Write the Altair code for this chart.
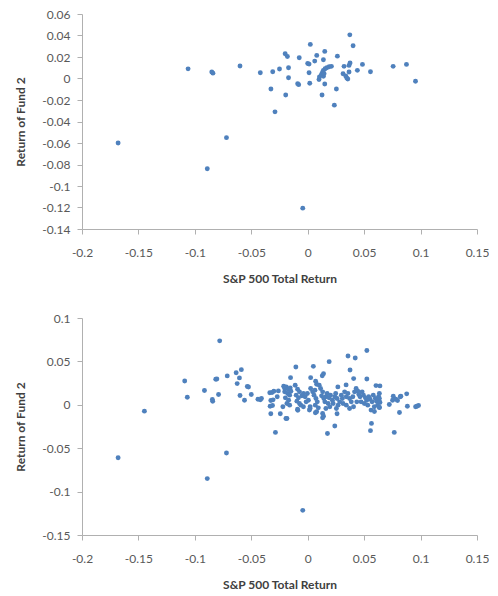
import altair as alt
import pandas as pd

# ---- Top panel data (S&P 500 total return vs Return of Fund 2) ----
top_x = [-0.168, -0.106, -0.085, -0.084, -0.060, -0.042, -0.031, -0.0326, -0.029, -0.072,
         -0.089, -0.025, -0.020, -0.018, -0.017, -0.017, -0.0195, -0.0089, -0.0080, -0.0075,
         0.000, 0.0012, 0.0023, 0.0012, 0.0018, 0.0062, 0.008, 0.0139, 0.0151, 0.010,
         0.0104, 0.0121, 0.013, 0.0139, 0.0154, 0.0169, 0.019, 0.021, 0.0139, 0.0145,
         0.0151, 0.0127, 0.0236, 0.0254, 0.0263, 0.0322, 0.0313, 0.0337, 0.0346, 0.0355,
         0.0373, 0.0402, 0.0366, 0.0375, 0.0366, 0.044, 0.0485, 0.0556, 0.0757, 0.0875,
         0.0955, -0.0044]
top_y = [-0.060, 0.009, 0.006, 0.005, 0.0116, 0.0054, 0.0063, -0.0097, -0.031, -0.055,
         -0.084, 0.0088, 0.023, 0.0205, 0.010, 0.0007, -0.0153, -0.0048, -0.0057, 0.0193,
         0.014, 0.0134, 0.0317, 0.0054, -0.0044, 0.0162, 0.0215, 0.0174, 0.0252, -0.001,
         0.0014, 0.0035, 0.0054, 0.0076, 0.0091, 0.010, 0.0109, 0.0113, 0.002, 0.0044,
         -0.0051, -0.0153, -0.0248, -0.0097, 0.0208, 0.0113, 0.0044, 0.0023, 0.0005, -0.0005,
         0.0406, 0.0304, 0.0122, 0.0144, 0.006, 0.0076, 0.0131, 0.0063, 0.0113, 0.0131,
         -0.0026, -0.1206]

# ---- Bottom panel data ----
bot_x = [
    -0.168, -0.1447, -0.109, -0.1067, -0.0915, -0.0845, -0.0842, -0.0815, -0.0805, -0.079,
    -0.078, -0.0713, -0.0634, -0.0625, -0.0605, -0.0588, -0.060, -0.056, -0.0535, -0.0525,
    -0.050, -0.0441, -0.042, -0.041, -0.0336, -0.0316, -0.030, -0.026, -0.0333, -0.0312,
    -0.0327, -0.0327, -0.0307, -0.0286, -0.072, -0.089, -0.027, -0.0243, -0.0193, -0.0204,
    0.0524, 0.0357, 0.0421, 0.019, -0.0105, 0.005, 0.0375, 0.0129, 0.0140, -0.0152,
    0.0026, 0.0524, 0.0407, 0.0070, 0.0079, 0.034, 0.0267, 0.0605, 0.064,
    -0.0213, -0.0190, -0.0172, -0.0155, -0.0204, -0.0178, -0.0160, -0.0149, -0.0198, -0.0169,
    -0.0184, -0.0160, -0.0111, -0.0090, -0.0073, -0.0102, -0.0082, -0.0052, -0.0096, -0.0073,
    -0.0090, -0.0061, -0.0038, -0.0023, -0.0003, -0.0014, 0.0006, 0.0021, 0.0015, 0.0026,
    0.0044, 0.0064, 0.0056, 0.0073, 0.0085, 0.0067, 0.0094, 0.0079, 0.0102, 0.0114,
    0.0132, 0.0123, 0.0143, 0.0161, 0.0152, 0.0172, 0.0190, 0.0202, 0.0181, 0.0196,
    0.0161, 0.0132, 0.0219, 0.0225, 0.0240, 0.0248, 0.0260, 0.0269, 0.0254, 0.0283,
    0.0298, 0.0240, 0.0175, -0.0184,
    0.0327, 0.0342, 0.0356, 0.0371, 0.0386, 0.0400, 0.0415, 0.0429, 0.0444, 0.0453,
    0.0464, 0.0482, 0.0494, 0.0511, 0.0523, 0.0540, 0.0552, 0.0570, 0.0581, 0.0599,
    0.0610, 0.0628, 0.0640, 0.0619, 0.0590, 0.0561, 0.0532, 0.0502, 0.0473, 0.0435,
    0.0406, 0.0371, 0.0342, 0.0313, 0.0307,
    0.0877, 0.0758, 0.0825, 0.0752, 0.0796, 0.0781, 0.0723, 0.0883, 0.0956, 0.0968,
    0.0982, 0.0813, 0.0591, 0.0635, 0.0565, 0.0556, 0.0767, 0.0132, 0.0140, 0.026,
    -0.0088, 0.0021, -0.0038, -0.022, 0.0068, 0.0635, 0.0635, 0.0635, 0.0635, 0.0820,
    -0.0044]
bot_y = [
    -0.061, -0.0073, 0.0275, 0.0087, 0.0164, 0.0061, 0.0041, 0.0294, 0.0297, 0.0118,
    0.0737, 0.0333, 0.037, 0.0244, 0.031, 0.0405, 0.0107, 0.0053, 0.021, 0.0205,
    0.0118, 0.0064, 0.0057, 0.0072, 0.0138, 0.0141, 0.0156, 0.016, -0.0016, -0.0008,
    -0.0103, 0.0049, 0.0057, -0.0318, -0.0555, -0.085, 0.0092, -0.0103, -0.0157, 0.0187,
    0.0626, 0.0562, 0.0539, 0.0497, 0.0436, 0.0443, 0.0401, 0.0335, 0.0357, 0.0313,
    0.0313, 0.0298, 0.0302, 0.0272, 0.0236, 0.0229, 0.0206, 0.0221, 0.0218,
    0.0214, 0.0206, 0.0179, 0.0195, 0.0149, 0.0130, 0.0111, 0.0156, 0.0080, 0.0053,
    0.0015, -0.0004, 0.0225, 0.0179, 0.0149, 0.0111, 0.0080, 0.0103, 0.0042, 0.0015,
    -0.0050, -0.0004, 0.0130, 0.0092, 0.0130, 0.0034, 0.0053, -0.0023, -0.0061, 0.0187,
    0.0149, 0.0168, 0.0111, 0.0072, 0.0034, -0.0004, -0.0035, -0.0080, 0.0225, 0.0187,
    0.0149, 0.0103, 0.0072, 0.0092, 0.0034, 0.0130, 0.0080, 0.0111, 0.0015, -0.0023,
    -0.0042, -0.0100, 0.0053, 0.0015, 0.0092, 0.0130, 0.0072, -0.0004, -0.0042, 0.0034,
    0.0111, -0.0245, -0.0331, -0.0157,
    0.0149, 0.0092, 0.0130, 0.0072, 0.0034, 0.0092, 0.0149, 0.0187, 0.0156, 0.0118,
    0.0092, 0.0149, 0.0111, 0.0080, 0.0053, 0.0092, 0.0065, 0.0034, 0.0111, 0.0072,
    0.0042, 0.0092, 0.0027, -0.0004, -0.0023, -0.0061, -0.0004, 0.0015, 0.0034, 0.0034,
    -0.0023, -0.0042, -0.0004, 0.0015, 0.0072,
    0.0126, 0.0099, 0.0099, 0.0053, 0.0049, 0.0064, 0.0003, -0.0016, -0.0023, -0.0016,
    -0.0008, -0.0088, -0.0077, -0.0031, -0.0214, -0.0298, -0.0318, -0.0149, -0.0131, -0.0103,
    -0.0062, -0.0042, -0.0023, -0.0023, -0.0092, 0.013, 0.0072, 0.0034, -0.003, 0.0092,
    -0.1216]

x_ticks = [-0.2, -0.15, -0.1, -0.05, 0, 0.05, 0.1, 0.15]
top_y_ticks = [-0.14, -0.12, -0.1, -0.08, -0.06, -0.04, -0.02, 0, 0.02, 0.04, 0.06]
bot_y_ticks = [-0.15, -0.1, -0.05, 0, 0.05, 0.1]

FONT = "Lato"
POINT = "#4F81BD"


def panel(xs, ys, ydomain, yticks, h):
    df = pd.DataFrame({"x": xs, "y": ys})
    return alt.Chart(df).mark_circle(size=24, color=POINT, opacity=1).encode(
        x=alt.X("x:Q",
                scale=alt.Scale(domain=[-0.2, 0.15], nice=False, zero=False),
                axis=alt.Axis(values=x_ticks, labelExpr="'' + datum.value",
                              title="S&P 500 Total Return", labelPadding=13,
                              labelFlush=False, titlePadding=15)),
        y=alt.Y("y:Q",
                scale=alt.Scale(domain=ydomain, nice=False, zero=False),
                axis=alt.Axis(values=yticks, labelExpr="'' + datum.value",
                              title="Return of Fund 2", labelPadding=7,
                              labelFlush=False, titlePadding=14)),
    ).properties(width=395, height=h)


top = panel(top_x, top_y, [-0.14, 0.06], top_y_ticks, 215)
bottom = panel(bot_x, bot_y, [-0.15, 0.1], bot_y_ticks, 217)

chart = alt.vconcat(top, bottom, spacing=28).properties(
    padding={"left": 6, "top": 0, "right": 0, "bottom": 0}
).configure_view(stroke=None).configure_axis(
    grid=False,
    domainColor="#b0b0b0",
    tickColor="#b0b0b0",
    tickSize=5,
    labelFont=FONT,
    labelFontSize=12,
    labelColor="#595959",
    titleFont=FONT,
    titleFontSize=12,
    titleFontWeight="bold",
    titleColor="#404040",
)

chart.save("out.html", embed_options={"renderer": "svg", "actions": False})
